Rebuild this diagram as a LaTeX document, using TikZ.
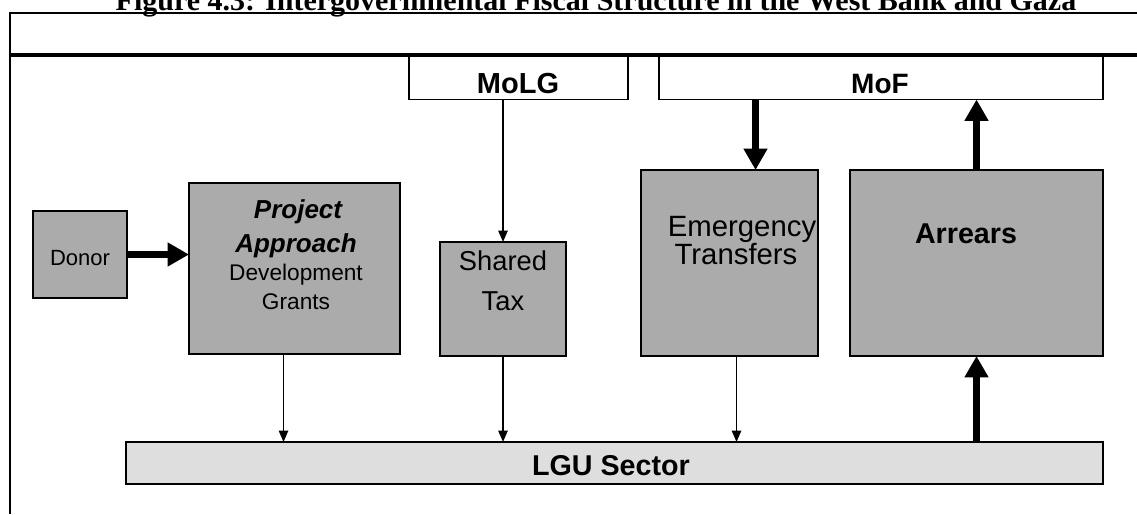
\documentclass[tikz,border=0pt]{standalone}
\usepackage{fontspec}
\setmainfont{Liberation Serif}
\setsansfont{Liberation Sans}
\usetikzlibrary{arrows.meta}
\begin{document}
\begin{tikzpicture}[x=0.75pt,y=-0.75pt,
  box/.style={draw=black, line width=1.1pt, fill=black!33, inner sep=0pt, outer sep=0pt, anchor=north west},
  wbox/.style={box, fill=white},
  lbox/.style={box, fill=black!13},
  lbl/.style={font=\sffamily, align=center, inner sep=0pt, anchor=base},
  thinarrow/.style={line width=1.2pt, -{Triangle[width=7pt,length=8.5pt]}},
  fatarrow/.style={line width=5.5pt, -{Triangle[width=17pt,length=16pt]}},
  frameline/.style={line width=1.1pt},
]
\useasboundingbox (0,0) rectangle (1137,514);
% title (cut off by the page edge, as in the reference)
\node[font=\bfseries\fontsize{22.5}{24}\selectfont, inner sep=0pt, anchor=base] (title) at (596,10)
  {Figure 4.3: Intergovernmental Fiscal Structure in the West Bank and Gaza};
% frame
\coordinate (ftl) at (10,13);
\coordinate (ftr) at (1137,13);
\coordinate (fbl) at (10,514);
\coordinate (fml) at (10,55);
\coordinate (fmr) at (1137,55);
\draw[frameline] (ftr) -- (ftl) -- (fbl);
\draw[line width=2.4pt] (fml) -- (fmr);
% boxes
\node[wbox, minimum width=219*0.75pt, minimum height=43*0.75pt] (molg) at (409,56.5) {};
\node[wbox, minimum width=444*0.75pt, minimum height=43*0.75pt] (mof) at (659,56.5) {};
\node[box, minimum width=94*0.75pt, minimum height=87*0.75pt] (donor) at (33,211) {};
\node[box, minimum width=211*0.75pt, minimum height=171*0.75pt] (proj) at (189,183) {};
\node[box, minimum width=126*0.75pt, minimum height=114*0.75pt] (tax) at (440,242) {};
\node[box, minimum width=177*0.75pt, minimum height=186*0.75pt] (emerg) at (641,170) {};
\node[box, minimum width=253*0.75pt, minimum height=186*0.75pt] (arr) at (850,170) {};
\node[lbox, minimum width=977*0.75pt, minimum height=42*0.75pt] (lgu) at (126,442) {};
% labels
\node[lbl, font=\sffamily\bfseries\fontsize{21.75}{24}\selectfont] (tmolg) at (518,93) {MoLG};
\node[lbl, font=\sffamily\bfseries\fontsize{21}{24}\selectfont] (tmof) at (880,93) {MoF};
\node[lbl, font=\sffamily\fontsize{16.5}{18}\selectfont] (tdonor) at (80,265) {Donor};
\node[lbl, font=\sffamily\bfseries\itshape\fontsize{19.5}{20}\selectfont] (tproj1) at (298,218) {Project};
\node[lbl, font=\sffamily\bfseries\itshape\fontsize{19.5}{20}\selectfont] (tproj2) at (296,252) {Approach};
\node[lbl, font=\sffamily\fontsize{17}{18}\selectfont] (tproj3) at (296,280) {Development};
\node[lbl, font=\sffamily\fontsize{17}{18}\selectfont] (tproj4) at (296,309) {Grants};
\node[lbl, font=\sffamily\fontsize{20.5}{22}\selectfont] (ttax1) at (503,270) {Shared};
\node[lbl, font=\sffamily\fontsize{20.5}{22}\selectfont] (ttax2) at (503,310) {Tax};
\node[lbl, font=\sffamily\fontsize{22}{22}\selectfont] (temerg1) at (742,236) {Emergency};
\node[lbl, font=\sffamily\fontsize{22}{22}\selectfont] (temerg2) at (736,264) {Transfers};
\node[lbl, font=\sffamily\bfseries\fontsize{21.5}{22}\selectfont] (tarr) at (966,243) {Arrears};
\node[lbl, font=\sffamily\bfseries\fontsize{21.5}{22}\selectfont] (tlgu) at (611,475) {LGU Sector};
% connectors
\draw[fatarrow] (donor.east) -- (donor.east -| proj.west);
\draw[thinarrow] (tax.north |- molg.south) -- (tax.north);
\draw[thinarrow] ([xshift=-11*0.75pt]proj.south) -- ([xshift=-11*0.75pt]proj.south |- lgu.north);
\draw[thinarrow] (tax.south) -- (tax.south |- lgu.north);
\draw[thinarrow] ([xshift=7*0.75pt]emerg.south) -- ([xshift=7*0.75pt]emerg.south |- lgu.north);
\draw[fatarrow] ([xshift=26*0.75pt]emerg.north |- mof.south) -- ([xshift=26*0.75pt]emerg.north);
\draw[fatarrow] (arr.north) -- (arr.north |- mof.south);
\draw[fatarrow] (arr.south |- lgu.north) -- (arr.south);
\end{tikzpicture}
\end{document}
